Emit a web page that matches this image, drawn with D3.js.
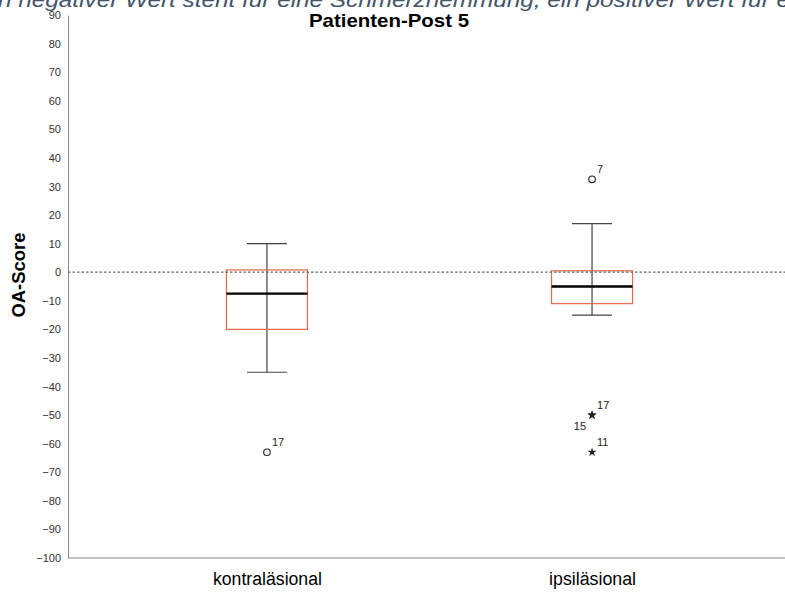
<!DOCTYPE html>
<html>
<head>
<meta charset="utf-8">
<script src="https://cdn.jsdelivr.net/npm/d3@7"></script>
<style>
  body { margin: 0; background: #fff; }
  text { font-family: "Liberation Sans", Arial, sans-serif; }
</style>
</head>
<body>
<svg id="chart" width="785" height="592"></svg>
<script>
// categories and box statistics
const categories = ['kontraläsional', 'ipsiläsional'];
const whiskerLow  = [-35, -15];
const boxLow      = [-20, -11];
const medians     = [-7.5, -5];
const boxHigh     = [0.8, 0.5];
const whiskerHigh = [10, 17];
// outliers: [category index, value, label, kind, label side]
const outliers = [
  [0, -63, '17', 'circle', 'right'],
  [1, 32.5, '7', 'circle', 'right'],
  [1, -50, '17', 'star', 'right'],
  [1, -50, '15', 'star', 'left'],
  [1, -63, '11', 'star', 'right']
];
const yTicks = d3.range(-100, 91, 10);

const
  svg = d3.select('#chart'),
  plotLeft = 68,
  plotRight = 785,
  plotTop = 15,
  plotBottom = 558
  ;

const yScale = d3.scaleLinear().domain([-100, 90]).range([plotBottom, plotTop]);
const xScale = d3.scalePoint().domain(categories).range([plotLeft, 791]).padding(0.612);

// cut-off note at the top
svg.append('text')
  .attr('x', -2).attr('y', 7)
  .attr('font-size', 21).attr('font-style', 'italic')
  .attr('fill', '#44546a')
  .attr('textLength', 792).attr('lengthAdjust', 'spacingAndGlyphs')
  .text('n negativer Wert steht für eine Schmerzhemmung, ein positiver Wert für e');

svg.append('text')
  .attr('x', 389).attr('y', 27)
  .attr('text-anchor', 'middle')
  .attr('font-size', 19).attr('font-weight', 'bold')
  .attr('textLength', 160).attr('lengthAdjust', 'spacingAndGlyphs')
  .text('Patienten-Post 5');

// y axis
const axisY = d3.axisLeft(yScale).tickValues(yTicks).tickSize(0).tickPadding(7);
const gy = svg.append('g').attr('transform', `translate(${plotLeft},0)`).call(axisY);
gy.select('.domain').attr('stroke', '#888');
gy.selectAll('text').attr('font-size', 11).attr('fill', '#333')
  .attr('font-family', '"Liberation Sans", Arial, sans-serif');

// x axis
const axisX = d3.axisBottom(xScale).tickSize(0).tickPadding(14);
const gx = svg.append('g').attr('transform', `translate(0,${plotBottom})`).call(axisX);
gx.select('.domain').attr('d', `M${plotLeft},0H${plotRight}`).attr('stroke', '#888');
gx.selectAll('text').attr('font-size', 18).attr('fill', '#000')
  .attr('font-family', '"Liberation Sans", Arial, sans-serif')
  .attr('textLength', d => d === categories[0] ? 109 : 87)
  .attr('lengthAdjust', 'spacingAndGlyphs');

svg.append('text')
  .attr('transform', `translate(25,${yScale(-1)}) rotate(-90)`)
  .attr('text-anchor', 'middle')
  .attr('font-size', 18).attr('font-weight', 'bold')
  .attr('textLength', 85).attr('lengthAdjust', 'spacingAndGlyphs')
  .text('OA-Score');

// boxes
const boxW = 81, capW = 40;
categories.forEach((c, i) => {
  const cx = xScale(c);
  const g = svg.append('g');
  g.append('line')
    .attr('x1', cx).attr('x2', cx)
    .attr('y1', yScale(whiskerHigh[i])).attr('y2', yScale(whiskerLow[i]))
    .attr('stroke', '#444').attr('stroke-width', 1.2);
  [whiskerHigh[i], whiskerLow[i]].forEach(v => {
    g.append('line')
      .attr('x1', cx - capW / 2).attr('x2', cx + capW / 2)
      .attr('y1', yScale(v)).attr('y2', yScale(v))
      .attr('stroke', '#444').attr('stroke-width', 1.2);
  });
  g.append('rect')
    .attr('x', cx - boxW / 2).attr('width', boxW)
    .attr('y', yScale(boxHigh[i]))
    .attr('height', yScale(boxLow[i]) - yScale(boxHigh[i]))
    .attr('fill', 'none').attr('stroke', '#e8674a').attr('stroke-width', 1.2);
  g.append('line')
    .attr('x1', cx - boxW / 2).attr('x2', cx + boxW / 2)
    .attr('y1', yScale(medians[i])).attr('y2', yScale(medians[i]))
    .attr('stroke', '#000').attr('stroke-width', 2.4);
});

// reference line at 0
svg.append('line')
  .attr('x1', plotLeft).attr('x2', plotRight)
  .attr('y1', yScale(0)).attr('y2', yScale(0))
  .attr('stroke', '#666').attr('stroke-width', 1.3)
  .attr('stroke-dasharray', '2.5,2');

// outliers
outliers.forEach(([i, v, lab, kind, side]) => {
  const cx = xScale(categories[i]), cy = yScale(v);
  if (kind === 'circle') {
    svg.append('circle').attr('cx', cx).attr('cy', cy).attr('r', 3.3)
      .attr('fill', 'none').attr('stroke', '#222').attr('stroke-width', 1.1);
  } else {
    svg.append('path')
      .attr('d', d3.symbol(d3.symbolStar, 26)())
      .attr('transform', `translate(${cx},${cy})`)
      .attr('fill', '#222');
  }
  svg.append('text')
    .attr('x', side === 'right' ? cx + 5 : cx - 6)
    .attr('y', side === 'right' ? cy - 6 : cy + 15)
    .attr('text-anchor', side === 'right' ? 'start' : 'end')
    .attr('font-size', 11).attr('fill', '#222')
    .text(lab);
});
</script>
</body>
</html>
